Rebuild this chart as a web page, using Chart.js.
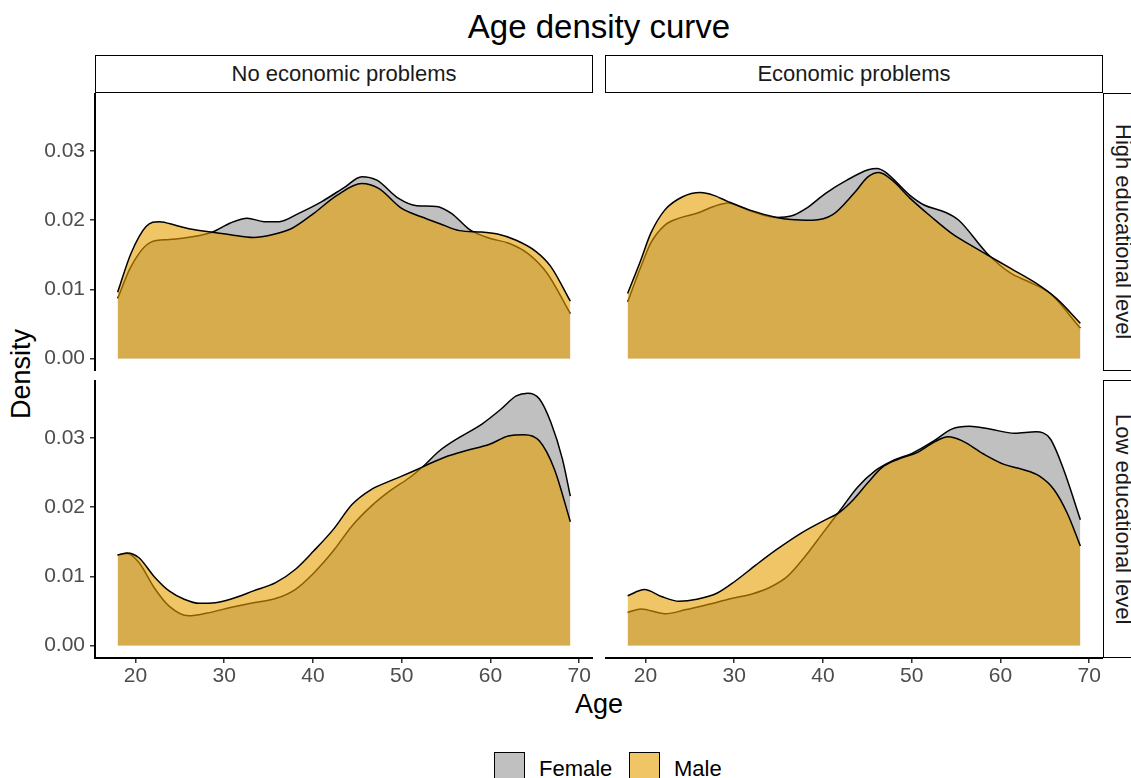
<!DOCTYPE html>
<html>
<head>
<meta charset="utf-8">
<script src="https://cdn.jsdelivr.net/npm/chart.js@4/dist/chart.umd.min.js"></script>
<style>
  html, body { margin:0; padding:0; }
  body { width:1131px; height:778px; overflow:hidden; background:#fff; position:relative;
         font-family:"Liberation Sans", Arial, Helvetica, sans-serif; }
  canvas { position:absolute; }
  .strip { position:absolute; box-sizing:border-box; border:1.6px solid #000; background:#fff;
           display:flex; align-items:center; justify-content:center; color:#1a1a1a; font-size:22px; }
  .vtext { writing-mode: vertical-rl; }
  .txt { position:absolute; white-space:nowrap; }
  .key { position:absolute; box-sizing:border-box; border:1.6px solid #000; width:31px; height:31px; }
</style>
</head>
<body>
<div class="txt" id="title" style="left:0; width:1198px; top:10px; text-align:center; font-size:33px; line-height:33px; color:#000;">Age density curve</div>

<div class="strip" style="left:95px; top:55px; width:498px; height:38px;">No economic problems</div>
<div class="strip" style="left:605px; top:55px; width:498px; height:38px;">Economic problems</div>
<div class="strip" style="left:1103px; top:93px; width:39px; height:278px;"><span class="vtext">High educational level</span></div>
<div class="strip" style="left:1103px; top:380px; width:39px; height:278px;"><span class="vtext">Low educational level</span></div>

<div class="txt" style="left:21px; top:374px; transform:translate(-50%,-50%) rotate(-90deg); font-size:27px; line-height:27px; color:#000;">Density</div>
<div class="txt" style="left:0; width:1198px; top:691px; text-align:center; font-size:27px; line-height:27px; color:#000;">Age</div>

<canvas id="cTL" width="593" height="278" style="left:0; top:93px;"></canvas>
<canvas id="cTR" width="498" height="278" style="left:605px; top:93px;"></canvas>
<canvas id="cBL" width="593" height="310" style="left:0; top:380px;"></canvas>
<canvas id="cBR" width="498" height="310" style="left:605px; top:380px;"></canvas>

<div class="key" style="left:494px; top:752px; background:rgba(150,150,150,0.6);"></div>
<div class="txt" style="left:539px; top:758px; font-size:22px; line-height:22px; color:#000;">Female</div>
<div class="key" style="left:629px; top:752px; background:rgba(230,159,0,0.6);"></div>
<div class="txt" style="left:674px; top:758px; font-size:22px; line-height:22px; color:#000;">Male</div>

<script>
// ---- tick labels ----
const xTicks = [20, 30, 40, 50, 60, 70];
const yTicks = [0, 0.01, 0.02, 0.03];

// ---- High educational level, No economic problems ----
const ageHighNoF = [18,19.5,21.7,23.8,26.4,28.7,30.7,32.6,34.5,36.2,38.4,41,43.6,45.5,47.2,49.6,51.7,53.9,55.6,57.7,59.9,62,64.2,66.4,69];
const denHighNoF = [0.0087,0.0133,0.0168,0.0172,0.0176,0.0183,0.0196,0.0203,0.0198,0.0198,0.021,0.0227,0.0248,0.0263,0.0258,0.0232,0.0221,0.022,0.021,0.0186,0.0174,0.0167,0.0152,0.0123,0.0065];
const ageHighNoM = [18,19.5,21.2,22.7,24.7,26.4,28.5,30.7,33.3,35.4,37.6,40.1,42.7,45.5,47.4,50,52.2,54.3,56.5,59,60.8,62.9,65.1,66.8,69];
const denHighNoM = [0.0096,0.0152,0.0191,0.0198,0.0192,0.0187,0.0183,0.0179,0.0175,0.0179,0.0188,0.021,0.0236,0.0253,0.0246,0.0217,0.0205,0.0195,0.0185,0.0183,0.018,0.0171,0.0155,0.0133,0.0083];

// ---- High educational level, Economic problems ----
const ageHighEcF = [18,19.5,20.6,22.2,23.8,25.8,27.7,29.3,31.7,34.8,36.4,38.2,40.3,42.7,45.1,46.1,47,49.8,51.4,53.7,55.3,58.5,61.2,63.2,65.6,69];
const denHighEcF = [0.0082,0.0133,0.0167,0.0193,0.0203,0.021,0.022,0.0225,0.0214,0.0204,0.0206,0.0218,0.0239,0.0258,0.0273,0.0275,0.027,0.0236,0.0222,0.0212,0.02,0.0152,0.0123,0.0111,0.0094,0.0044];
const ageHighEcM = [18,19.5,20.6,22.2,24.2,26.2,27.7,29.3,31.7,34.8,36.4,38.8,41.1,43.5,45.1,46.3,47.8,49.8,52.2,54.5,56.5,58.5,61.2,64,66.3,69];
const denHighEcM = [0.0094,0.0143,0.0181,0.0215,0.0234,0.024,0.0236,0.0227,0.0215,0.0204,0.0201,0.02,0.0208,0.0239,0.0263,0.0269,0.0258,0.0232,0.0205,0.0181,0.0165,0.015,0.013,0.0109,0.0087,0.0051];

// ---- Low educational level, No economic problems ----
const ageLowNoF = [18,19.1,20.4,22.1,23.8,26,28.1,30.7,33.3,35.8,38,40.1,42.3,44.4,46.6,48.7,50.9,52.4,54.3,56.5,59,61.2,62.9,64.2,65.5,66.8,68.1,69];
const denLowNoF = [0.0131,0.0133,0.012,0.0084,0.0057,0.0043,0.0047,0.0055,0.0062,0.0068,0.0081,0.0105,0.0137,0.0173,0.0202,0.0224,0.0243,0.0259,0.0282,0.0301,0.032,0.0342,0.0361,0.0365,0.0357,0.0323,0.027,0.0216];
const ageLowNoM = [18,19.1,20.4,22.1,23.8,25.5,27.2,29,30.7,33.3,35.8,38,40.1,42.3,44.4,46.6,48.3,50,51.8,53.5,55.2,57.3,59.9,62,63.8,65.5,67.2,69];
const denLowNoM = [0.0131,0.0134,0.0127,0.01,0.0079,0.0067,0.0061,0.0062,0.0067,0.0079,0.0091,0.011,0.0137,0.0168,0.0204,0.0226,0.0236,0.0245,0.0255,0.0265,0.0274,0.0282,0.0291,0.0303,0.0305,0.0296,0.0255,0.0179];

// ---- Low educational level, Economic problems ----
const ageLowEcF = [18,19.5,22.2,24.6,26.9,29.7,32.1,34,36,38,40,41.9,43.9,45.9,47.8,50.2,52.5,54.5,56.5,58.8,61.6,64,65.6,67.1,69];
const denLowEcF = [0.0048,0.0053,0.0046,0.0052,0.0059,0.0068,0.0075,0.0084,0.01,0.0129,0.0163,0.0195,0.0229,0.0253,0.0267,0.0279,0.0296,0.0313,0.0317,0.0313,0.0307,0.0309,0.0299,0.0255,0.0182];
const ageLowEcM = [18,19.9,21.8,23.8,25.8,28.1,30.1,32.5,34.8,37.6,40,41.9,43.5,45.1,46.6,48.6,50.6,52.5,54.1,55.7,58.1,60.4,62.4,64.4,66,67.5,69];
const denLowEcM = [0.0072,0.0081,0.0071,0.0064,0.0067,0.0076,0.0093,0.0117,0.0139,0.0163,0.018,0.0193,0.0212,0.0236,0.0257,0.027,0.0279,0.0294,0.0302,0.0296,0.0277,0.0262,0.0255,0.0245,0.0226,0.0192,0.0144];

// ---- scale limits (ggplot-style 5% expansion) ----
const xMin = 15.45, xMax = 71.55;
const yMin = -0.0018, yMax = 0.0384;

const FONT = '"Liberation Sans", Arial, Helvetica, sans-serif';
const femaleFill = 'rgba(150,150,150,0.6)';
const maleFill = 'rgba(230,159,0,0.6)';

function pts(xs, ys) { return xs.map((x, i) => ({ x: x, y: ys[i] })); }

function makeChart(id, ageF, denF, ageM, denM, showY, showX) {
  const common = { fill: 'origin', borderColor: '#000', borderWidth: 1.5, pointRadius: 0,
                   cubicInterpolationMode: 'monotone' };
  new Chart(document.getElementById(id), {
    type: 'line',
    data: {
      datasets: [
        Object.assign({ label: 'Male', data: pts(ageM, denM), backgroundColor: maleFill, order: 0 }, common),
        Object.assign({ label: 'Female', data: pts(ageF, denF), backgroundColor: femaleFill, order: 1 }, common)
      ]
    },
    options: {
      responsive: false, animation: false, maintainAspectRatio: false,
      layout: { padding: 0 },
      plugins: { legend: { display: false }, tooltip: { enabled: false } },
      scales: {
        x: {
          type: 'linear', min: xMin, max: xMax, display: showX,
          afterBuildTicks: s => { s.ticks = xTicks.map(v => ({ value: v })); },
          afterFit: s => { if (showX) { s.height = 32; } s.paddingLeft = 0; s.paddingRight = 0; },
          grid: { display: true, drawOnChartArea: false, drawTicks: true, tickLength: 5, color: '#333', lineWidth: 1.5 },
          border: { display: true, color: '#000', width: 2 },
          ticks: { color: '#4d4d4d', font: { size: 21, family: FONT }, padding: 1, maxRotation: 0, autoSkip: false,
                   callback: v => String(v) }
        },
        y: {
          type: 'linear', min: yMin, max: yMax, display: showY,
          afterBuildTicks: s => { s.ticks = yTicks.map(v => ({ value: v })); },
          afterFit: s => { if (showY) { s.width = 95; } s.paddingTop = 0; s.paddingBottom = 0; },
          grid: { display: true, drawOnChartArea: false, drawTicks: true, tickLength: 5, color: '#333', lineWidth: 1.5 },
          border: { display: true, color: '#000', width: 2 },
          ticks: { color: '#4d4d4d', font: { size: 21, family: FONT }, padding: 5, autoSkip: false,
                   callback: v => Number(v).toFixed(2) }
        }
      }
    }
  });
}

makeChart('cTL', ageHighNoF, denHighNoF, ageHighNoM, denHighNoM, true, false);
makeChart('cTR', ageHighEcF, denHighEcF, ageHighEcM, denHighEcM, false, false);
makeChart('cBL', ageLowNoF, denLowNoF, ageLowNoM, denLowNoM, true, true);
makeChart('cBR', ageLowEcF, denLowEcF, ageLowEcM, denLowEcM, false, true);
</script>
</body>
</html>
